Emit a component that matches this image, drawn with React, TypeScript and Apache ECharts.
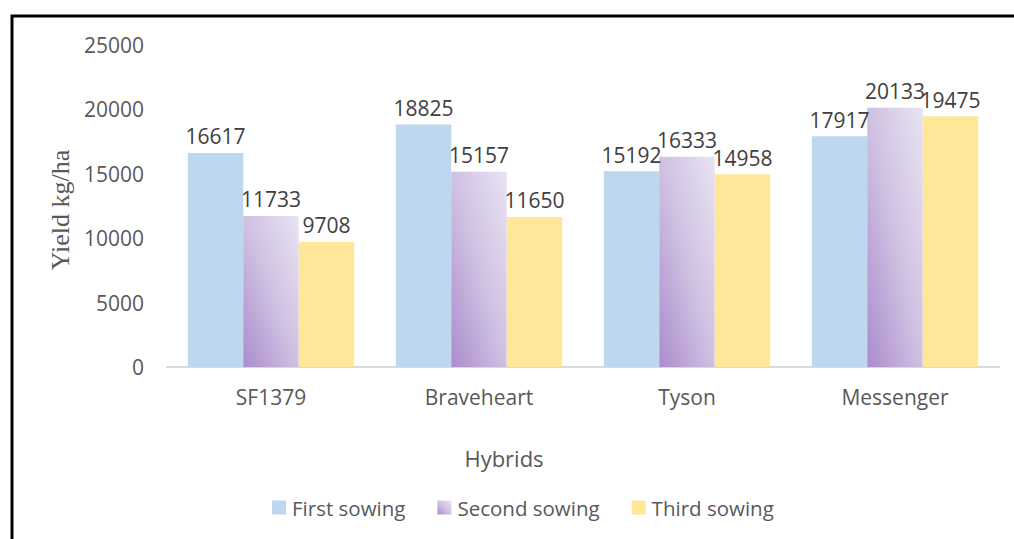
import React, { useEffect, useRef } from "react";
import * as echarts from "echarts";

const categories = ["SF1379", "Braveheart", "Tyson", "Messenger"];
const seriesNames = ["First sowing", "Second sowing", "Third sowing"];
const firstSowing = [16617, 18825, 15192, 17917];
const secondSowing = [11733, 15157, 16333, 20133];
const thirdSowing = [9708, 11650, 14958, 19475];
const yTicks = { min: 0, max: 25000, interval: 5000 };
const xTitle = "Hybrids";
const yTitle = "Yield kg/ha";

const FONT = "'Open Sans', 'Noto Sans', sans-serif";

export default function App() {
  const ref = useRef<HTMLDivElement>(null);
  useEffect(() => {
    if (!ref.current) return;
    const chart = echarts.init(ref.current, null, { renderer: "svg" });
    const purple = new echarts.graphic.LinearGradient(0, 1, 1, 0, [
      { offset: 0, color: "#ab8ccd" },
      { offset: 0.5, color: "#cfc1e2" },
      { offset: 1, color: "#e8e3f2" },
    ]);
    const label = {
      show: true,
      position: "top",
      distance: 6,
      color: "#404040",
      fontFamily: FONT,
      fontSize: 21,
    };
    const mk = (name: string, data: number[], color: any) => ({
      name,
      type: "bar",
      data,
      barGap: "0%",
      barCategoryGap: "20%",
      itemStyle: { color },
      label,
    });
    chart.setOption({
      animation: false,
      backgroundColor: "#ffffff",
      textStyle: { fontFamily: FONT },
      grid: { left: 167, right: 15, top: 45, bottom: 172, containLabel: false },
      xAxis: {
        type: "category",
        data: categories,
        axisLine: { lineStyle: { color: "#d9d9d9", width: 2 } },
        axisTick: { show: false },
        axisLabel: { color: "#595959", fontSize: 21, margin: 19, fontFamily: FONT },
      },
      yAxis: {
        type: "value",
        min: yTicks.min,
        max: yTicks.max,
        interval: yTicks.interval,
        axisLine: { show: false },
        axisTick: { show: false },
        splitLine: { show: false },
        axisLabel: {
          color: "#595959",
          fontSize: 21,
          margin: 23,
          fontFamily: FONT,
          formatter: (v: number) => String(v),
        },
      },
      legend: {
        data: seriesNames,
        left: 267,
        top: 492,
        itemWidth: 14,
        itemHeight: 14,
        itemGap: 32,
        icon: "rect",
        textStyle: { color: "#595959", fontSize: 20.5, fontFamily: FONT, padding: [0, 0, 0, 1] },
      },
      graphic: [
        {
          type: "polyline",
          shape: { points: [[12, 545], [12, 16], [1020, 16]] },
          style: { stroke: "#000000", lineWidth: 3, fill: null },
        },
        {
          type: "text",
          x: 504,
          y: 458,
          style: {
            text: xTitle,
            fill: "#595959",
            fontSize: 22,
            fontFamily: FONT,
            textAlign: "center",
            textVerticalAlign: "middle",
          },
        },
        {
          type: "text",
          x: 60,
          y: 210,
          rotation: Math.PI / 2,
          style: {
            text: yTitle,
            fill: "#595959",
            fontSize: 26,
            fontFamily: "'Liberation Serif', 'DejaVu Serif', serif",
            textAlign: "center",
            textVerticalAlign: "middle",
          },
        },
      ],
      series: [
        mk(seriesNames[0], firstSowing, "#bdd7ee"),
        mk(seriesNames[1], secondSowing, purple),
        mk(seriesNames[2], thirdSowing, "#ffe699"),
      ],
    });
    return () => chart.dispose();
  }, []);
  return (
    <div
      ref={ref}
      style={{ position: "fixed", left: 0, top: 0, width: 1014, height: 539 }}
    />
  );
}
